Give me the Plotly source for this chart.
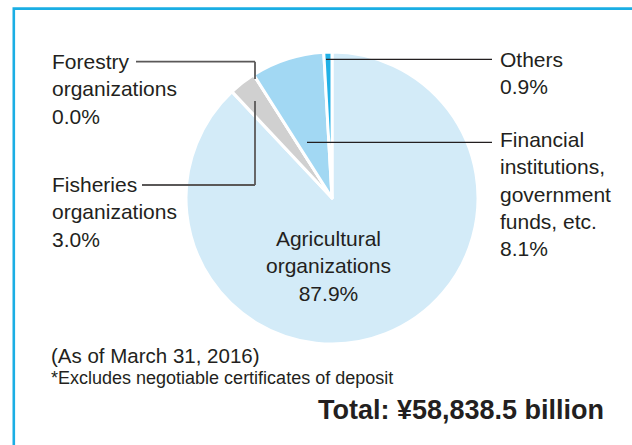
import plotly.graph_objects as go

W, H = 632, 445

# ---- data ----
categories = ["Agricultural organizations", "Fisheries organizations",
              "Forestry organizations", "Financial institutions, government funds, etc.",
              "Others"]
shares = [87.9, 3.0, 0.0, 8.1, 0.9]
colors = ["#d3ebf8", "#d0d0d0", "#bdbdbd", "#a2d8f3", "#22b1e6"]
label_texts = [
    "Agricultural<br>organizations<br>87.9%",
    "Fisheries<br>organizations<br>3.0%",
    "Forestry<br>organizations<br>0.0%",
    "Financial<br>institutions,<br>government<br>funds, etc.<br>8.1%",
    "Others<br>0.9%",
]
note1 = "(As of March 31, 2016)"
note2 = "*Excludes negotiable certificates of deposit"
total_text = "Total: ¥58,838.5 billion"

TEXT = "#231f20"
FONT = "Liberation Sans, Arial, sans-serif"


def px(x):
    return x / W


def py(y):
    return 1 - y / H


# pie geometry (pixels)
cx, cy, R = 332, 198, 146

fig = go.Figure()
fig.add_trace(go.Pie(
    labels=categories,
    values=shares,
    sort=False,
    direction="clockwise",
    rotation=0,
    textinfo="none",
    hoverinfo="label+percent",
    marker=dict(colors=colors, line=dict(color="white", width=3)),
    domain=dict(x=[px(cx - R), px(cx + R)], y=[py(cy + R), py(cy - R)]),
    showlegend=False,
))

shapes = []
# frame (top and left edges visible)
shapes.append(dict(type="rect", xref="paper", yref="paper",
                   x0=px(13.8), x1=px(W + 40), y0=py(8.6), y1=py(H + 40),
                   line=dict(color="#1aaee4", width=2.6), layer="above"))


def polyline(points, color, width):
    for (x0, y0), (x1, y1) in zip(points[:-1], points[1:]):
        shapes.append(dict(type="line", xref="paper", yref="paper",
                           x0=px(x0), y0=py(y0), x1=px(x1), y1=py(y1),
                           line=dict(color=color, width=width), layer="above"))


# leader lines
polyline([(136, 61.7), (255, 61.7), (255, 79)], "#5a5858", 1.8)
polyline([(142, 185), (255, 185), (255, 101)], "#5a5858", 1.8)
polyline([(326, 59.3), (492, 59.3)], "#231f20", 1.3)
polyline([(307, 142.3), (492, 142.3)], "#231f20", 1.3)

annotations = []


def label(text, x, y, size=21, xanchor="left", align="left", bold=False, color=TEXT):
    annotations.append(dict(
        text=text, x=px(x), y=py(y), xref="paper", yref="paper",
        xanchor=xanchor, yanchor="middle", align=align, showarrow=False,
        font=dict(family=FONT, size=size, color=color,
                  weight="bold" if bold else "normal"),
    ))


label(label_texts[2], 50, 88.5, size=21)
label(label_texts[1], 50, 212.5, size=21)
label(label_texts[4], 498, 73.5, size=21)
label(label_texts[3], 498, 194, size=21)
label(label_texts[0], 328, 266, size=21, xanchor="center", align="center")
label(note1, 49, 355, size=20.5)
label(note2, 49, 378, size=18)
label(total_text, 606, 410, size=27, xanchor="right", align="right", bold=True)

fig.update_layout(
    width=W, height=H,
    margin=dict(l=0, r=0, t=0, b=0),
    paper_bgcolor="white",
    plot_bgcolor="white",
    shapes=shapes,
    annotations=annotations,
)

fig.write_html("out.html",
               config={"displayModeBar": False},
               post_script="document.body.style.margin='0';document.body.style.overflow='hidden';")
